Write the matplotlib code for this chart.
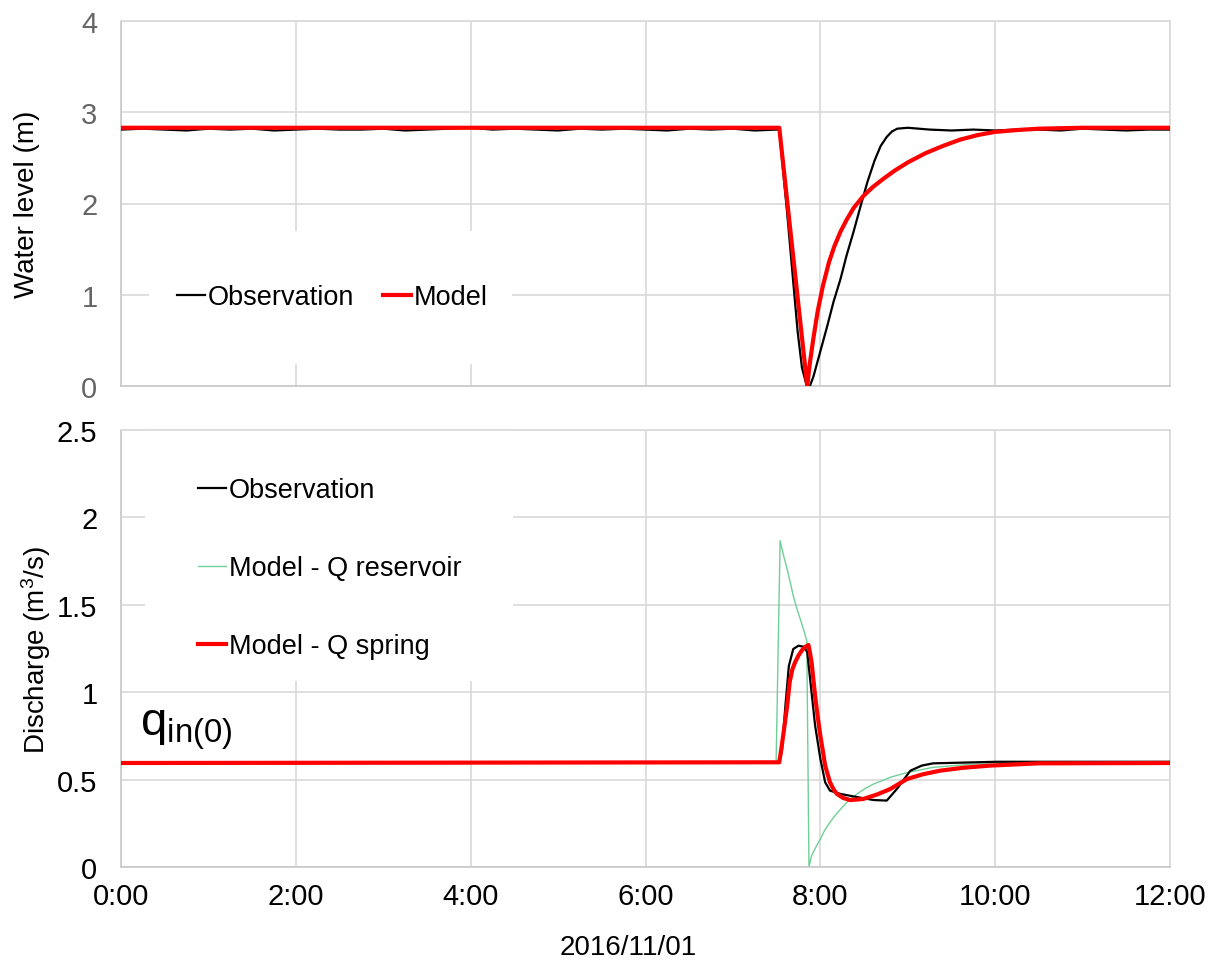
import matplotlib
matplotlib.use("Agg")
import matplotlib.pyplot as plt
from matplotlib.patches import Rectangle

# ---------------- data (time in hours from 0:00) ----------------
# Top panel: water level (m)
obs_level_t = [0.0, 0.25, 0.5, 0.75, 1.0, 1.25, 1.5, 1.75, 2.0, 2.25, 2.5, 2.75, 3.0, 3.25,
               3.5, 3.75, 4.0, 4.25, 4.5, 4.75, 5.0, 5.25, 5.5, 5.75, 6.0, 6.25, 6.5, 6.75,
               7.0, 7.25, 7.5,
               7.53, 7.56, 7.62, 7.68, 7.74, 7.79, 7.84, 7.88, 7.92, 8.0, 8.08, 8.15, 8.23,
               8.30, 8.38, 8.46, 8.54, 8.62, 8.69, 8.76, 8.82, 8.88,
               9.0, 9.25, 9.5, 9.75, 10.0, 10.25, 10.5, 10.75, 11.0, 11.25, 11.5, 11.75, 12.0]
obs_level = [2.81, 2.82, 2.81, 2.80, 2.82, 2.81, 2.82, 2.80, 2.81, 2.82, 2.81, 2.81, 2.82, 2.80,
             2.81, 2.82, 2.83, 2.81, 2.82, 2.81, 2.80, 2.82, 2.81, 2.82, 2.81, 2.80, 2.82, 2.81,
             2.82, 2.80, 2.81,
             2.81, 2.50, 1.90, 1.25, 0.60, 0.20, 0.02, 0.00, 0.10, 0.38, 0.66, 0.92, 1.17,
             1.43, 1.69, 1.97, 2.24, 2.47, 2.63, 2.73, 2.79, 2.82,
             2.83, 2.81, 2.80, 2.81, 2.80, 2.81, 2.81, 2.80, 2.82, 2.81, 2.80, 2.81, 2.81]

model_level_t = [0.0, 7.53, 7.85, 7.88, 7.92, 7.97, 8.03, 8.10, 8.16, 8.23, 8.30, 8.38, 8.49,
                 8.60, 8.72, 8.85, 9.0, 9.2, 9.4, 9.6, 9.8, 10.0, 10.25, 10.5, 11.0, 12.0]
model_level = [2.83, 2.83, 0.00, 0.25, 0.52, 0.82, 1.10, 1.36, 1.53, 1.69, 1.82, 1.95, 2.08,
               2.18, 2.27, 2.36, 2.45, 2.55, 2.63, 2.70, 2.75, 2.785, 2.805, 2.82, 2.83, 2.83]

# Bottom panel: discharge (m3/s)
obs_q_t = [0.0, 4.0, 4.3, 7.53, 7.56, 7.60, 7.64, 7.69, 7.75, 7.81, 7.85, 7.88, 7.94, 8.0,
           8.055, 8.11, 8.23, 8.42, 8.61, 8.76, 8.875, 9.03, 9.16, 9.29, 10.02, 12.0]
obs_q = [0.595, 0.595, 0.60, 0.60, 0.66, 0.92, 1.15, 1.247, 1.266, 1.26, 1.23, 1.09, 0.81, 0.62,
         0.485, 0.437, 0.418, 0.40, 0.383, 0.38, 0.446, 0.551, 0.58, 0.593, 0.602, 0.602]

res_q_t = [0.0, 7.494, 7.54, 7.58, 7.62, 7.66, 7.69, 7.73, 7.77, 7.81, 7.845, 7.87, 7.90,
           7.95, 8.0, 8.05, 8.11, 8.17, 8.23, 8.32, 8.42, 8.51, 8.61, 8.80, 8.99, 9.29,
           9.75, 12.0]
res_q = [0.595, 0.595, 1.867, 1.78, 1.705, 1.62, 1.552, 1.48, 1.419, 1.355, 1.295, 0.0, 0.065,
         0.115, 0.16, 0.21, 0.256, 0.295, 0.33, 0.378, 0.418, 0.448, 0.475, 0.513, 0.54, 0.57,
         0.589, 0.595]

spring_q_t = [0.0, 7.53, 7.555, 7.58, 7.62, 7.65, 7.68, 7.71, 7.75, 7.79, 7.83, 7.864, 7.88,
              7.90, 7.94, 7.97, 8.0, 8.03, 8.055, 8.11, 8.15, 8.19, 8.26, 8.34, 8.49, 8.65,
              8.80, 8.99, 9.17, 9.37, 9.64, 9.94, 10.5, 12.0]
spring_q = [0.595, 0.599, 0.68, 0.77, 0.92, 1.06, 1.13, 1.17, 1.21, 1.24, 1.26, 1.27, 1.23,
            1.171, 0.98, 0.86, 0.751, 0.66, 0.58, 0.485, 0.445, 0.418, 0.395, 0.383, 0.389,
            0.415, 0.446, 0.503, 0.53, 0.551, 0.568, 0.58, 0.593, 0.595]

xticks = [0, 2, 4, 6, 8, 10, 12]
xtick_labels = ["0:00", "2:00", "4:00", "6:00", "8:00", "10:00", "12:00"]
date_label = "2016/11/01"

# ---------------- style ----------------
plt.rcParams['font.family'] = ['Liberation Sans', 'DejaVu Sans']
plt.rcParams['mathtext.fontset'] = 'custom'
plt.rcParams['mathtext.rm'] = 'Liberation Sans'
plt.rcParams['mathtext.it'] = 'Liberation Sans:italic'

W, H = 1209, 962
fig = plt.figure(figsize=(W / 100, H / 100), dpi=100)

def px_axes(x0, y0, x1, y1):
    return fig.add_axes([x0 / W, 1 - y1 / H, (x1 - x0) / W, (y1 - y0) / H])

ax1 = px_axes(121, 22, 1170, 387)
ax2 = px_axes(121, 431, 1170, 868)

GRID = '#d9d9d9'
TICK_FS = 21
LEG_FS = 19.5
LAB_FS = 20
for ax in (ax1, ax2):
    ax.set_xlim(0, 12)
    ax.set_xticks(xticks)
    ax.grid(True, color=GRID, lw=1.2)
    ax.set_axisbelow(True)
    for s in ax.spines.values():
        s.set_color(GRID)
        s.set_linewidth(1.2)
    ax.spines['left'].set_color('#c8c8c8')
    ax.spines['bottom'].set_color('#c8c8c8')
    ax.tick_params(length=0, labelsize=TICK_FS, pad=17)

# Top
ax1.set_ylim(0, 4)
ax1.set_yticks([0, 1, 2, 3, 4])
ax1.set_xticklabels([])
ax1.tick_params(axis='y', colors='#666666')
ax1.add_patch(Rectangle((28 / 1049, 22 / 365), 363 / 1049, 133 / 365,
                        transform=ax1.transAxes, facecolor='white', edgecolor='none',
                        zorder=1))
l1, = ax1.plot(obs_level_t, obs_level, color='black', lw=1.6, zorder=3, label='Observation')
l2, = ax1.plot(model_level_t, model_level, color='#ff0000', lw=3, zorder=4, label='Model')
ax1.set_ylabel('Water level (m)', fontsize=LAB_FS)
ax1.yaxis.set_label_coords(-81 / 1049, 0.5)
ax1.legend(handles=[l1, l2], loc='center left', bbox_to_anchor=(56 / 1049, 89 / 365),
           ncol=2, frameon=False, fontsize=LEG_FS, handlelength=1.05, handletextpad=0.1,
           columnspacing=1.05, borderpad=0, borderaxespad=0)

# Bottom
ax2.set_ylim(0, 2.5)
ax2.set_yticks([0, 0.5, 1, 1.5, 2, 2.5])
ax2.set_yticklabels(['0', '0.5', '1', '1.5', '2', '2.5'])
ax2.set_xticklabels(xtick_labels)
ax2.tick_params(axis='y', pad=17)
ax2.tick_params(axis='x', pad=11)
ax2.add_patch(Rectangle((24 / 1049, 186 / 437), 368 / 1049, 251 / 437,
                        transform=ax2.transAxes, facecolor='white', edgecolor='none',
                        zorder=1))
m1, = ax2.plot(obs_q_t, obs_q, color='black', lw=1.6, zorder=3, label='Observation')
m2, = ax2.plot(res_q_t, res_q, color='#6fcf97', lw=1.0, zorder=2, label='Model - Q reservoir')
m3, = ax2.plot(spring_q_t, spring_q, color='#ff0000', lw=3, zorder=4, label='Model - Q spring')
ax2.set_ylabel('Discharge (m$^3$/s)', fontsize=LAB_FS)
ax2.yaxis.set_label_coords(-68 / 1049, 0.5)
ax2.legend(handles=[m1, m2, m3], loc='center left', bbox_to_anchor=(77 / 1049, 299 / 437),
           frameon=False, fontsize=LEG_FS, handlelength=1.05, handletextpad=0.1,
           labelspacing=1.92, borderpad=0, borderaxespad=0)
ax2.text(19 / 1049, (868 - 735) / 437, r'q$_{\mathrm{in(0)}}$', transform=ax2.transAxes,
         fontsize=34, va='baseline', ha='left', zorder=5)

fig.text(628 / W, 1 - 948 / H, date_label, fontsize=LAB_FS, ha='center', va='center')

fig.savefig('out.png', dpi=100, facecolor='white')
